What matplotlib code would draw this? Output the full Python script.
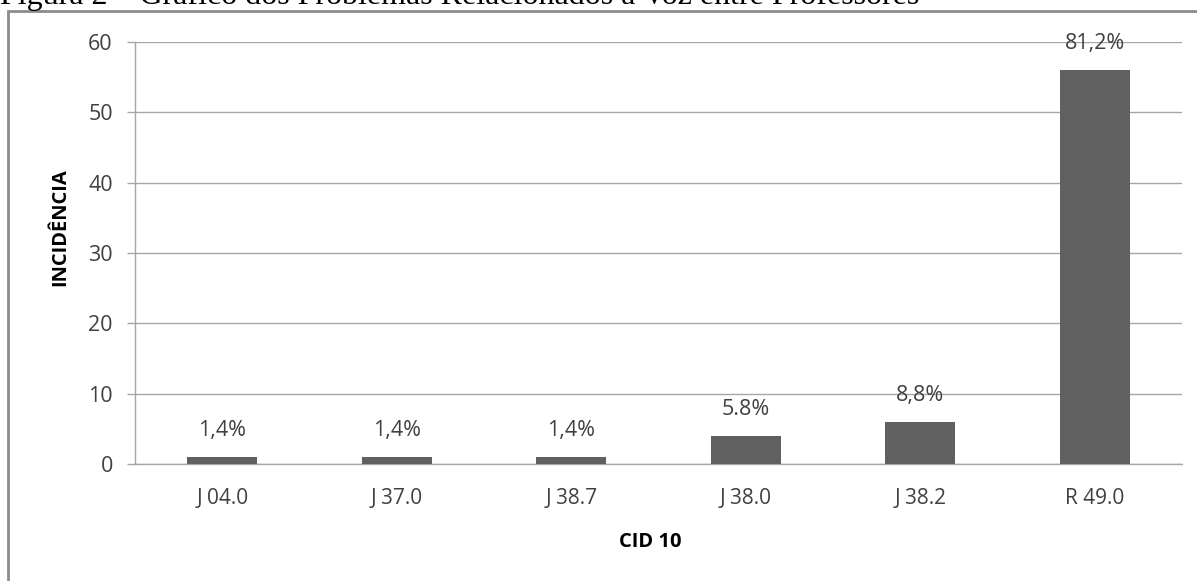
import numpy as np
import matplotlib.pyplot as plt
from matplotlib.patches import Rectangle

# data
categories = ['J 04.0', 'J 37.0', 'J 38.7', 'J 38.0', 'J 38.2', 'R 49.0']
incidence = [1, 1, 1, 4, 6, 56]
pct_labels = ['1,4%', '1,4%', '1,4%', '5.8%', '8,8%', '81,2%']

W, H = 1197, 581
fig = plt.figure(figsize=(W / 100, H / 100), dpi=100)
plt.rcParams['font.family'] = ['Open Sans', 'DejaVu Sans']

# axes placed in pixel terms
x0, x1 = 135, 1182
y_top, y_bot = 42, 464
ax = fig.add_axes([x0 / W, 1 - y_bot / H, (x1 - x0) / W, (y_bot - y_top) / H])

text_col = '#404040'
grid_col = '#a6a6a6'

x = np.arange(len(categories))
ax.bar(x, incidence, width=0.4, color='#606060', zorder=3)

for xi, v, lab in zip(x, incidence, pct_labels):
    ax.annotate(lab, (xi, v), xytext=(0, 19), textcoords='offset points',
                ha='center', va='center', fontsize=15.5, color=text_col, zorder=4)

ax.set_xlim(-0.5, len(categories) - 0.5)
ax.set_ylim(0, 60)
ax.set_yticks(np.arange(0, 61, 10))
ax.set_xticks(x)
ax.set_xticklabels(categories)
ax.yaxis.grid(True, color=grid_col, linewidth=1, zorder=0)
ax.set_axisbelow(True)

for s in ['top', 'right']:
    ax.spines[s].set_visible(False)
for s in ['left', 'bottom']:
    ax.spines[s].set_color(grid_col)
    ax.spines[s].set_linewidth(1)

ax.tick_params(axis='y', colors=grid_col, labelcolor=text_col, labelsize=15.5,
               length=6, width=1, pad=10)
ax.tick_params(axis='x', length=0, labelcolor=text_col, labelsize=15, pad=17)

fig.text(650 / W, 1 - 542 / H, 'CID 10', ha='center', va='center',
         fontsize=14.5, fontweight='bold', color='black')
fig.text(60 / W, 1 - 227 / H, 'INCIDÊNCIA', ha='center', va='center',
         rotation=90, fontsize=14.5, fontweight='bold', color='black')

# outer frame of the chart (right and bottom sides run off the page)
fig.patches.append(Rectangle((8 / W, -0.05), 1.1, 1.05 - 11 / H,
                             transform=fig.transFigure, fill=False,
                             edgecolor='#8c8c8c', linewidth=2))

# caption, cut off at top of the page as in the source
fig.text(0, 1 - 4 / H, 'Figura 2 – Gráfico dos Problemas Relacionados à Voz entre Professores',
         ha='left', va='baseline', fontsize=23, family='Liberation Serif', color='black')

fig.savefig('out.png', dpi=100)
